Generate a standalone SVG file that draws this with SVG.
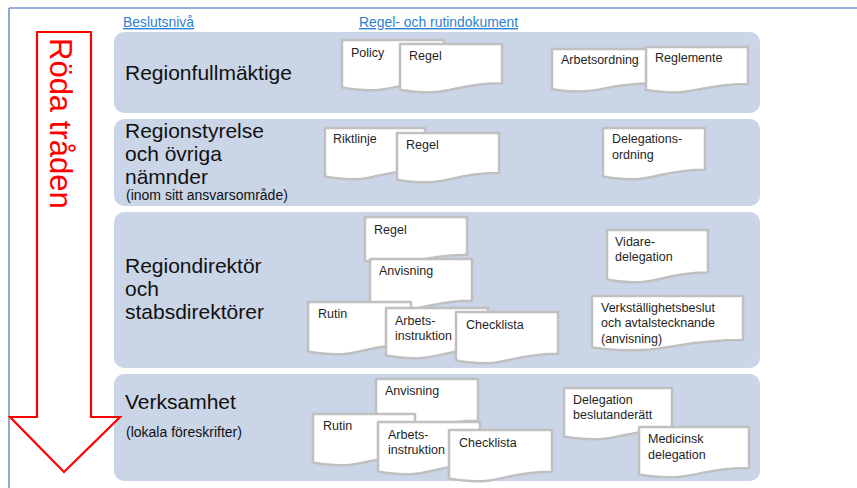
<svg xmlns="http://www.w3.org/2000/svg" width="857" height="488" viewBox="0 0 857 488">
<style>
.band{fill:#cad5e8}
.doc{fill:#ffffff;stroke:#c0c0c0;stroke-width:2.5;stroke-linejoin:round}
.dt{font-family:"Liberation Sans",Arial,sans-serif;font-size:12.5px;fill:#1f1f1f}
.bl{font-family:"Liberation Sans",Arial,sans-serif;font-size:21px;fill:#111111}
.bs{font-family:"Liberation Sans",Arial,sans-serif;font-size:14px;fill:#111111}
.hd{font-family:"Liberation Sans",Arial,sans-serif;font-size:13.9px;fill:#2f80d4;text-decoration:underline}
</style>
<rect width="857" height="488" fill="#ffffff"/>
<g id="frame">
<line x1="9" y1="8" x2="857" y2="8" stroke="#7096cf" stroke-width="1.6"/>
<line x1="9" y1="8" x2="9" y2="488" stroke="#7096cf" stroke-width="1.6"/>
</g>
<g id="headers">
<text class="hd" x="123" y="27">Beslutsnivå</text>
<text class="hd" x="359" y="27">Regel- och rutindokument</text>
</g>
<g id="band1">
<rect class="band" x="114" y="32" width="646" height="81" rx="10"/>
<text class="bl" x="125" y="80">Regionfullmäktige</text>
</g>
<g id="band2">
<rect class="band" x="114" y="119" width="646" height="87" rx="10"/>
<text class="bl" x="125" y="138">Regionstyrelse</text>
<text class="bl" x="125" y="161">och övriga</text>
<text class="bl" x="125" y="184">nämnder</text>
<text class="bs" x="126" y="200">(inom sitt ansvarsområde)</text>
</g>
<g id="band3">
<rect class="band" x="114" y="212" width="646" height="156" rx="10"/>
<text class="bl" x="125" y="273">Regiondirektör</text>
<text class="bl" x="125" y="296">och</text>
<text class="bl" x="125" y="319">stabsdirektörer</text>
</g>
<g id="band4">
<rect class="band" x="114" y="374" width="646" height="107" rx="10"/>
<text class="bl" x="125" y="409">Verksamhet</text>
<text class="bs" x="126" y="437">(lokala föreskrifter)</text>
</g>
<g id="arrow">
<polygon points="37,32 91,32 91,417 120,417 64,472 10,417 37,417" fill="#ffffff" stroke="#ff0000" stroke-width="2.2" stroke-linejoin="miter"/>
<text transform="translate(50,38) rotate(90)" font-family="Liberation Sans,Arial,sans-serif" font-size="31" fill="#ff0000">Röda tråden</text>
</g>
<g id="connectors"></g>
<g id="doc-policy"><path class="doc" d="M342,40 H444 V80.9 C393,80.9 393,96.5 342,87.6 Z"/><text class="dt" x="351" y="57">Policy</text></g>
<g id="doc-regel1"><path class="doc" d="M400,44 H502 V83.3 C451,83.3 451,98.2 400,89.8 Z"/><text class="dt" x="409" y="60">Regel</text></g>
<g id="doc-arbetsordning"><path class="doc" d="M552,49 H650 V83.5 C601,83.5 601,96.6 552,89.2 Z"/><text class="dt" x="561" y="64">Arbetsordning</text></g>
<g id="doc-reglemente"><path class="doc" d="M646,47 H748 V83.9 C697,83.9 697,97.9 646,90 Z"/><text class="dt" x="655" y="62">Reglemente</text></g>
<g id="doc-riktlinje"><path class="doc" d="M325,128 H425 V169.7 C375,169.7 375,185.6 325,176.6 Z"/><text class="dt" x="333" y="143">Riktlinje</text></g>
<g id="doc-regel2"><path class="doc" d="M397,133 H499 V173.1 C448,173.1 448,188.4 397,179.7 Z"/><text class="dt" x="406" y="149">Regel</text></g>
<g id="doc-delegationsordning"><path class="doc" d="M603,128 H705 V169.7 C654,169.7 654,185.6 603,176.6 Z"/><text class="dt" x="612" y="143">Delegations-</text><text class="dt" x="612" y="159">ordning</text></g>
<g id="doc-regel3"><path class="doc" d="M365,217 H467 V254.7 C416,254.7 416,269 365,260.9 Z"/><text class="dt" x="374" y="234">Regel</text></g>
<g id="doc-anvisning1"><path class="doc" d="M370,259 H472 V300.7 C421,300.7 421,316.6 370,307.6 Z"/><text class="dt" x="379" y="275">Anvisning</text></g>
<g id="doc-rutin1"><path class="doc" d="M308,302 H411 V344.5 C359.5,344.5 359.5,360.7 308,351.5 Z"/><text class="dt" x="318" y="318">Rutin</text></g>
<g id="doc-arbetsinstruktion1"><path class="doc" d="M386,308 H488 V348.9 C437,348.9 437,364.5 386,355.6 Z"/><text class="dt" x="395" y="325">Arbets-</text><text class="dt" x="395" y="340">instruktion</text></g>
<g id="doc-checklista1"><path class="doc" d="M456,312 H558 V353.7 C507,353.7 507,369.6 456,360.6 Z"/><text class="dt" x="466" y="329">Checklista</text></g>
<g id="doc-vidaredelegation"><path class="doc" d="M607,230 H708 V272.5 C657.5,272.5 657.5,288.7 607,279.5 Z"/><text class="dt" x="615" y="246">Vidare-</text><text class="dt" x="615" y="261">delegation</text></g>
<g id="doc-verkstallighetsbeslut"><path class="doc" d="M592,296 H743 V340.1 C667.5,340.1 667.5,356.9 592,347.4 Z"/><text class="dt" x="601" y="312">Verkställighetsbeslut</text><text class="dt" x="601" y="327">och avtalstecknande</text><text class="dt" x="601" y="343">(anvisning)</text></g>
<g id="doc-anvisning2"><path class="doc" d="M376,379 H478 V420.7 C427,420.7 427,436.6 376,427.6 Z"/><text class="dt" x="385" y="395">Anvisning</text></g>
<g id="doc-rutin2"><path class="doc" d="M313,414 H415 V455.7 C364,455.7 364,471.6 313,462.6 Z"/><text class="dt" x="323" y="430">Rutin</text></g>
<g id="doc-arbetsinstruktion2"><path class="doc" d="M378,422 H480 V464.5 C429,464.5 429,480.7 378,471.5 Z"/><text class="dt" x="388" y="439">Arbets-</text><text class="dt" x="388" y="454">instruktion</text></g>
<g id="doc-checklista2"><path class="doc" d="M449,430 H552 V471.7 C500.5,471.7 500.5,487.6 449,478.6 Z"/><text class="dt" x="459" y="447">Checklista</text></g>
<g id="doc-delegationbeslutanderatt"><path class="doc" d="M564,388 H672 V429.7 C618,429.7 618,445.6 564,436.6 Z"/><text class="dt" x="573" y="404">Delegation</text><text class="dt" x="573" y="419">beslutanderätt</text></g>
<g id="doc-medicinskdelegation"><path class="doc" d="M639,427 H749 V467.9 C694,467.9 694,483.5 639,474.6 Z"/><text class="dt" x="648" y="443">Medicinsk</text><text class="dt" x="648" y="459">delegation</text></g>
</svg>
